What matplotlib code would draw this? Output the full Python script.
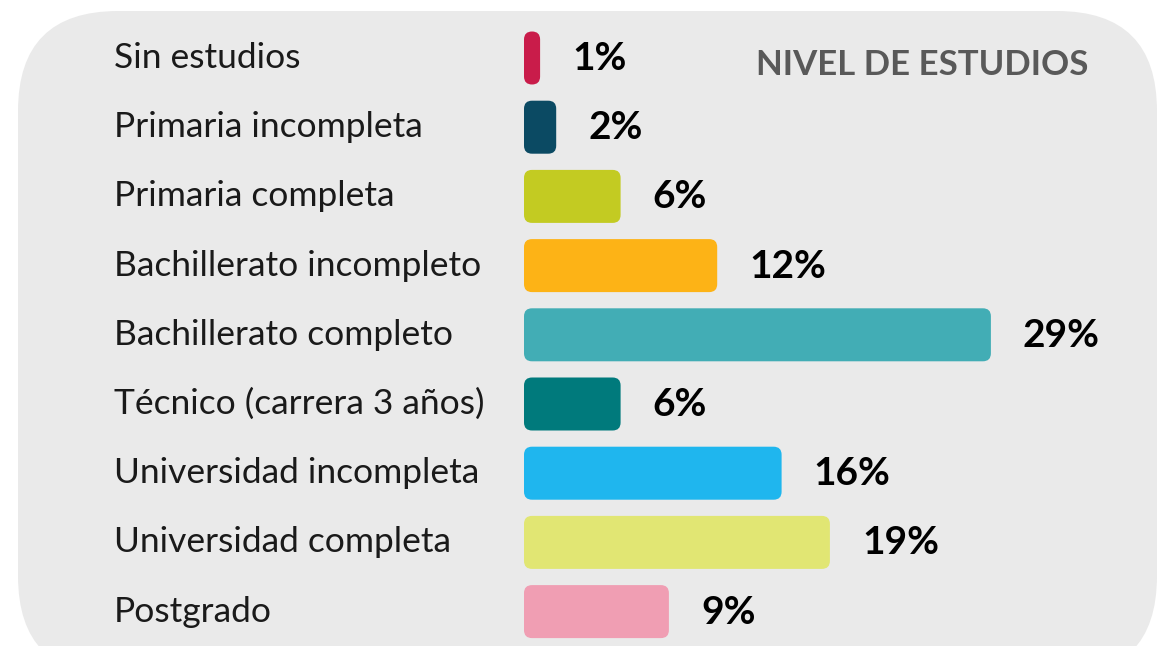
import matplotlib
matplotlib.use("Agg")
import matplotlib.pyplot as plt
from matplotlib.patches import FancyBboxPatch

categories = ["Sin estudios", "Primaria incompleta", "Primaria completa",
              "Bachillerato incompleto", "Bachillerato completo",
              "Técnico (carrera 3 años)", "Universidad incompleta",
              "Universidad completa", "Postgrado"]
values = [1, 2, 6, 12, 29, 6, 16, 19, 9]
value_labels = ["1%", "2%", "6%", "12%", "29%", "6%", "16%", "19%", "9%"]
colors = ["#C91C4A", "#0B4A63", "#C3CB22", "#FDB316", "#42ADB5",
          "#007A7C", "#1FB6EE", "#E1E673", "#F09EB3"]
title = "NIVEL DE ESTUDIOS"

W, H, DPI = 1160, 646, 100
fig = plt.figure(figsize=(W / DPI, H / DPI), dpi=DPI)
fig.patch.set_facecolor("white")

# rounded background panel (pixel geometry -> inches)
bg = FancyBboxPatch((18 / DPI, (H - 676) / DPI), (1157 - 18) / DPI, (676 - 11) / DPI,
                    boxstyle="round,pad=0,rounding_size=1.0",
                    transform=fig.dpi_scale_trans, facecolor="#EAEAEA",
                    edgecolor="none", zorder=-5)
fig.patches.append(bg)

ax = fig.add_axes([0, 0, 1, 1])
ax.set_facecolor("none")
ax.set_zorder(1)
PX_X = 16.1      # pixels per percent
X0 = 524.0       # pixel of zero
Y0, DY = 58.0, 69.2
ax.set_xlim(-X0 / PX_X, (W - X0) / PX_X)
ax.set_ylim((H - Y0) / DY, -Y0 / DY)
ax.axis("off")

bar_h = 53 / DY
r_px = 8.0
aspect = PX_X / DY
for i, (v, c) in enumerate(zip(values, colors)):
    p = FancyBboxPatch((0, i - bar_h / 2), v, bar_h,
                       boxstyle=f"round,pad=0,rounding_size={r_px / PX_X}",
                       mutation_aspect=aspect, facecolor=c, edgecolor="none", zorder=2)
    ax.add_patch(p)

label_font = "Lato"
for i, cat in enumerate(categories):
    ax.text((114 - X0) / PX_X, i + 10 / DY, cat, ha="left", va="baseline",
            fontsize=25.5, color="#1a1a1a", family=label_font)

for i, (v, lab) in enumerate(zip(values, value_labels)):
    ax.text(v + 32 / PX_X, i + 12 / DY, lab, ha="left", va="baseline",
            fontsize=28, fontweight="bold", color="black", family=label_font)

ax.text((1088 - X0) / PX_X, 75 / DY - Y0 / DY, title, ha="right", va="baseline",
        fontsize=25, fontweight="bold", color="#595959", family=label_font)

fig.savefig("out.png", dpi=DPI, facecolor="white")
